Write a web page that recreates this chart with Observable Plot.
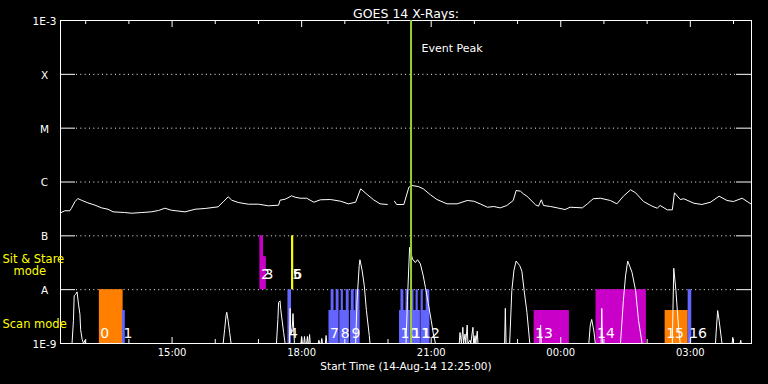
<!DOCTYPE html>
<html><head><meta charset="utf-8">
<script src="https://cdn.jsdelivr.net/npm/d3@7"></script>
<script src="https://cdn.jsdelivr.net/npm/@observablehq/plot@0.6"></script>
<style>
html,body{margin:0;padding:0;background:#000;}
#chart svg{display:block}
</style></head><body><div id="chart"></div>
<script>
// ---------- data ----------
const titleText = "GOES 14 X-Rays:";
const xLabelText = "Start Time (14-Aug-14 12:25:00)";
const startTime = "12:25", endTime = "04:25";

const levelValues = [1e-9, 1e-8, 1e-7, 1e-6, 1e-5, 1e-4, 1e-3];
const levelLabels = ["1E-9", "A", "B", "C", "M", "X", "1E-3"];
const gridLevels = [1e-8, 1e-7, 1e-6, 1e-5, 1e-4];

const majorTicks = ["15:00", "18:00", "21:00", "00:00", "03:00"];
const minorTicks = ["13:00", "14:00", "16:00", "17:00", "19:00", "20:00", "22:00", "23:00", "01:00", "02:00", "04:00"];

// GOES long channel (1-8 A)
const upperTimes = ["12:26","12:31","12:38","12:40","12:45","12:49","12:54","13:03","13:13","13:22","13:31","13:38","13:54","14:04","14:18","14:31","14:41","14:50","14:59","15:18","15:32","15:46","16:04","16:11","16:18","16:23","16:32","16:46","17:00","17:14","17:28","17:30","17:37","17:41","17:46","17:51","17:58","18:07","18:17","18:26","18:40","18:54","19:05","19:15","19:22","19:31","19:40","19:49","19:59","20:04","20:09","20:12","20:22","20:29","20:33","20:42","20:49","20:59","21:08","21:22","21:36","21:50","21:59","22:08","22:18","22:27","22:36","22:45","22:54","22:58","23:04","23:08","23:13","23:25","23:29","23:33","23:36","23:46","23:55","00:06","00:13","00:30","00:37","00:45","00:55","01:09","01:18","01:27","01:37","01:44","01:55","02:07","02:14","02:18","02:28","02:35","02:38","02:46","02:51","03:05","03:16","03:28","03:40","03:51","04:00","04:12","04:24"];
const upperFlux = [2.71e-7,2.92e-7,2.92e-7,3.22e-7,4.29e-7,4.93e-7,4.59e-7,4.10e-7,3.71e-7,3.31e-7,3.12e-7,2.79e-7,2.71e-7,2.63e-7,2.71e-7,2.79e-7,2.95e-7,3.26e-7,2.99e-7,2.79e-7,3.12e-7,3.22e-7,3.46e-7,4.29e-7,5.31e-7,4.59e-7,4.16e-7,3.87e-7,3.87e-7,3.61e-7,3.71e-7,4.59e-7,4.79e-7,5.08e-7,5.54e-7,5.21e-7,5.00e-7,5.00e-7,4.21e-7,4.67e-7,4.73e-7,4.40e-7,3.93e-7,4.21e-7,7.47e-7,5.86e-7,4.67e-7,3.93e-7,3.82e-7,NaN,4.40e-7,3.82e-7,3.82e-7,8.0e-7,8.61e-7,8.24e-7,7.47e-7,5.78e-7,4.73e-7,3.93e-7,3.93e-7,4.53e-7,4.40e-7,3.93e-7,3.40e-7,3.50e-7,3.31e-7,3.66e-7,4.53e-7,6.95e-7,6.75e-7,6.04e-7,5.45e-7,3.77e-7,3.55e-7,4.67e-7,3.66e-7,3.50e-7,3.31e-7,3.08e-7,3.40e-7,3.31e-7,3.93e-7,4.88e-7,5.00e-7,4.53e-7,3.93e-7,5.45e-7,7.16e-7,6.30e-7,4.34e-7,3.55e-7,3.26e-7,3.66e-7,3.04e-7,3.04e-7,6.30e-7,4.73e-7,4.88e-7,4.03e-7,3.82e-7,4.21e-7,5.45e-7,4.53e-7,4.34e-7,5.00e-7,3.93e-7];

// GOES short channel (0.5-4 A)
const lowerTimes = ["12:25","12:41","12:43","12:44","12:46","12:48","12:50","12:52","12:53","12:55","12:57","12:59","13:00","16:11","16:13","16:15","16:16","16:18","16:20","16:22","17:25","17:27","17:28","17:30","17:31","17:33","17:35","17:37","17:43","17:44","17:45","17:47","17:48","17:50","17:59","18:00","18:01","18:03","18:04","18:05","18:07","18:08","18:09","18:10","18:11","18:12","18:23","18:24","18:25","18:27","18:28","18:29","18:33","18:34","18:35","19:15","19:17","19:20","19:21","19:24","19:27","19:30","19:34","19:35","20:25","20:27","20:30","20:34","20:38","20:41","20:45","20:49","20:52","20:56","21:00","21:03","21:06","21:39","21:40","21:42","21:44","21:45","21:47","21:48","21:50","21:51","21:54","21:55","21:58","21:59","22:01","22:02","22:04","22:05","22:42","22:43","22:44","22:49","22:52","22:55","22:58","23:03","23:06","23:09","23:13","23:17","23:31","23:32","23:33","00:39","00:41","00:43","00:46","00:48","00:56","00:57","00:58","01:23","01:27","01:30","01:33","01:36","01:39","01:44","01:48","01:53","02:35","02:37","02:40","02:44","02:46","03:35","03:36","03:38","03:40","03:44","03:58","03:59","04:00","04:09","04:10","04:11","04:25"];
const lowerFlux = [1e-9,1e-9,2.7e-9,7.7e-9,8.2e-9,9.1e-9,5.4e-9,3.5e-9,1.8e-9,1.2e-9,1e-9,1.15e-9,1e-9,1e-9,1.8e-9,3.3e-9,3.8e-9,2.6e-9,1.6e-9,1e-9,1e-9,2.8e-9,5.8e-9,6.2e-9,4.3e-9,2.6e-9,1.6e-9,1e-9,1e-9,4.5e-9,1.5e-9,2.0e-9,3.6e-9,1e-9,1e-9,1.35e-9,1e-9,1e-9,1.35e-9,1e-9,1e-9,1.35e-9,1e-9,1e-9,1.47e-9,1e-9,1e-9,1.15e-9,1e-9,1e-9,1.24e-9,1e-9,1e-9,1.41e-9,1e-9,1e-9,6.3e-9,2.8e-8,3.6e-8,2.3e-8,1.2e-8,4.1e-9,1.4e-9,1e-9,1e-9,6.3e-9,6.1e-8,3.7e-8,3.2e-8,3.6e-8,3.0e-8,1.8e-8,1.1e-8,5.5e-9,2.7e-9,1.5e-9,1e-9,1e-9,1.6e-9,1e-9,2.0e-9,1e-9,1.5e-9,1e-9,2.2e-9,1e-9,1.15e-9,1e-9,2.0e-9,1e-9,1.4e-9,1e-9,1.7e-9,1e-9,1e-9,4.5e-9,1e-9,1e-9,9.6e-9,2.3e-8,3.4e-8,2.8e-8,2.2e-8,1.0e-8,3.8e-9,1e-9,1e-9,2.2e-9,1e-9,1e-9,2.2e-9,2.8e-9,1.7e-9,1e-9,1e-9,4.5e-9,1e-9,1e-9,6.3e-9,1.8e-8,3.4e-8,2.7e-8,2.1e-8,9.6e-9,2.7e-9,1e-9,1e-9,2.5e-8,9.6e-9,1.7e-9,1e-9,1e-9,1.7e-9,4.1e-9,2.7e-9,1e-9,1e-9,1.3e-9,1e-9,1e-9,1.15e-9,1e-9,1e-9];

// IRIS observations
const obsLabels  = ["0","1","2","3","4","5","6","7","8","9","10","11","12","13","14","15","16"];
const obsStart   = ["13:19","13:51","17:02","17:07","17:41","17:46","17:47","18:38","18:53","19:08","20:16","20:32","20:46","23:23","00:49","02:25","02:57"];
const obsEnd     = ["13:52","13:55","17:07","17:11","17:46","17:48","17:49","18:51","19:06","19:21","20:31","20:45","20:58","00:12","01:59","02:57","03:02"];
const obsMode    = ["scan","scan","sit","sit","scan","sit","sit","scan","scan","scan","scan","scan","scan","scan","scan","scan","scan"];
const obsTop     = [1e-8,4.1e-9,1e-7,4.1e-8,1e-8,1e-7,1e-7,4.1e-9,4.1e-9,4.1e-9,4.1e-9,4.1e-9,4.1e-9,4.1e-9,1e-8,4.1e-9,1e-8];
const obsProgram = ["P1","P2","P3","P3","P2","P4","P4","P2","P2","P2","P2","P2","P2","P3","P3","P1","P2"];
// unlabeled raster steps inside observations 7-12
const stepStart = ["18:41","18:48","18:55","19:02","19:09","19:15","20:18","20:25","20:32","20:39","20:46","20:53"];
const stepEnd   = ["18:45","18:52","18:58","19:06","19:13","19:21","20:22","20:29","20:36","20:42","20:49","20:58"];
const stepTop = 1e-8;

const programs = ["P1","P2","P3","P4"];
const programColors = ["#ff8000","#6464ff","#c800c8","#ffff00"];
const modeBase = {scan: 1e-9, sit: 1e-8};

const eventPeakTime = "20:32";
const eventLabel = "Event Peak";
const sitLabel1 = "Sit & Stare", sitLabel2 = "mode", scanLabel = "Scan mode";

// ---------- build ----------
function T(s) { const [h, m] = s.split(":").map(Number); return new Date(Date.UTC(2014, 7, h < 12 ? 15 : 14, h, m)); }

const upper = upperTimes.map((t, i) => ({t: T(t), f: upperFlux[i]}));
const lower = lowerTimes.map((t, i) => ({t: T(t), f: lowerFlux[i]}));
const obs = obsLabels.map((l, i) => ({label: l, s: T(obsStart[i]), e: T(obsEnd[i]), mode: obsMode[i],
  base: modeBase[obsMode[i]], top: obsTop[i], program: obsProgram[i]}));
const steps = stepStart.map((s, i) => ({s: T(s), e: T(stepEnd[i]), base: modeBase.scan, top: stepTop, program: "P2"}));
const levels = levelValues.map((v, i) => ({v, label: levelLabels[i]}));
const majorT = majorTicks.map(T), minorT = minorTicks.map(T);

const font = "DejaVu Sans, sans-serif";
const W = "#ffffff";

const chart = Plot.plot({
  width: 768, height: 384,
  marginLeft: 60, marginRight: 17, marginTop: 20, marginBottom: 41,
  style: {background: "#000", color: W, fontFamily: font},
  x: {type: "utc", domain: [T(startTime), T(endTime)], axis: null},
  y: {type: "log", domain: [1e-9, 1e-3], axis: null, clamp: true},
  color: {domain: programs, range: programColors},
  marks: [
    Plot.ruleY(gridLevels, {y: d => d, stroke: W, strokeDasharray: "1,3.33", insetLeft: 16, insetRight: 16}),
    Plot.rect(obs, {x1: "s", x2: "e", y1: "base", y2: "top", fill: "program"}),
    Plot.rect(steps, {x1: "s", x2: "e", y1: "base", y2: "top", fill: "program"}),
    Plot.frame({stroke: W}),
    Plot.ruleY(gridLevels, {y: d => d, stroke: W, insetRight: 676}),
    Plot.ruleY(gridLevels, {y: d => d, stroke: W, insetLeft: 676}),
    Plot.ruleX(majorT, {x: d => d, stroke: W, insetTop: 317}),
    Plot.ruleX(majorT, {x: d => d, stroke: W, insetBottom: 316}),
    Plot.ruleX(minorT, {x: d => d, stroke: W, insetTop: 319}),
    Plot.ruleX(minorT, {x: d => d, stroke: W, insetBottom: 319}),
    Plot.line(upper, {x: "t", y: "f", stroke: W, strokeWidth: 1}),
    Plot.line(lower, {x: "t", y: "f", stroke: W, strokeWidth: 1}),
    Plot.text(obs.filter(d => d.mode === "scan"), {x: "s", y: "base", text: "label", textAnchor: "start", dx: 1, dy: -9.5, fill: W, fontSize: 14}),
    Plot.text(obs.filter(d => d.mode === "sit"), {x: "s", y: "base", text: "label", textAnchor: "start", dx: 1, dy: -15.5, fill: W, fontSize: 14}),
    Plot.ruleX([T(eventPeakTime)], {x: d => d, stroke: "#9acd32", strokeWidth: 2}),
    Plot.text([eventLabel], {x: () => T(eventPeakTime), frameAnchor: "top", text: d => d, textAnchor: "start", dx: 10.5, dy: 24, fill: W, fontSize: 11}),
    // axes labels
    Plot.text(levels, {y: "v", text: "label", frameAnchor: "left", dx: -16, dy: 1, textAnchor: "middle", fill: W, fontSize: 10.5}),
    Plot.text(majorT, {x: d => d, frameAnchor: "bottom", text: d => d3.utcFormat("%H:%M")(d), dy: 12.8, fill: W, fontSize: 10}),
    Plot.text([xLabelText], {frameAnchor: "bottom", text: d => d, dy: 26, fill: W, fontSize: 10.5}),
    Plot.text([titleText], {frameAnchor: "top", text: d => d, dy: -11, fill: W, fontSize: 12.5}),
    Plot.text([sitLabel1], {y: () => Math.sqrt(1e-8 * 1e-7), frameAnchor: "left", text: d => d, textAnchor: "start", dx: -58, dy: -3, fill: "#ffff00", fontSize: 11.5}),
    Plot.text([sitLabel2], {y: () => Math.sqrt(1e-8 * 1e-7), frameAnchor: "left", text: d => d, textAnchor: "start", dx: -47, dy: 9, fill: "#ffff00", fontSize: 11.5}),
    Plot.text([scanLabel], {y: () => Math.sqrt(1e-9 * 1e-8), frameAnchor: "left", text: d => d, textAnchor: "start", dx: -58, dy: 8, fill: "#ffff00", fontSize: 11.5})
  ]
});
document.getElementById("chart").appendChild(chart);
</script>
</body></html>
